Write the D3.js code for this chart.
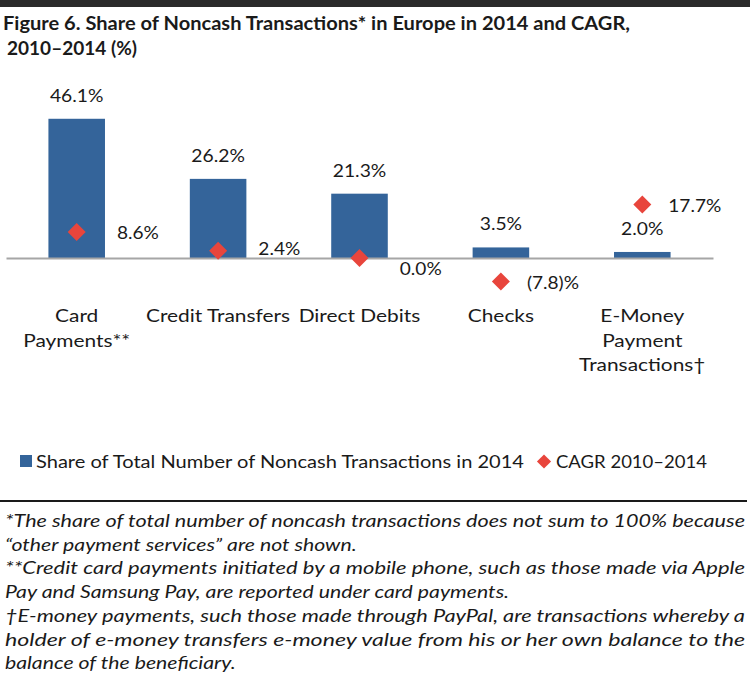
<!DOCTYPE html>
<html>
<head>
<meta charset="utf-8">
<script src="https://cdn.jsdelivr.net/npm/d3@7"></script>
<style>
  html, body { margin: 0; padding: 0; background: #ffffff; }
  svg { display: block; }
  text { font-family: Lato, "Open Sans", "DejaVu Sans", sans-serif; fill: #1a1a1a; }
</style>
</head>
<body>
<script>
// ---- data ----
const categories = ["Card\nPayments**", "Credit Transfers", "Direct Debits", "Checks", "E-Money\nPayment\nTransactions†"];
const shareValues = [46.1, 26.2, 21.3, 3.5, 2.0];
const cagrValues = [8.6, 2.4, 0.0, -7.8, 17.7];
const seriesNames = ["Share of Total Number of Noncash Transactions in 2014", "CAGR 2010–2014"];
const titleLines = ["Figure 6. Share of Noncash Transactions* in Europe in 2014 and CAGR,", "2010–2014 (%)"];
const footnoteLines = [
  "*The share of total number of noncash transactions does not sum to 100% because",
  "“other payment services” are not shown.",
  "**Credit card payments initiated by a mobile phone, such as those made via Apple",
  "Pay and Samsung Pay, are reported under card payments.",
  "†E-money payments, such those made through PayPal, are transactions whereby a",
  "holder of e-money transfers e-money value from his or her own balance to the",
  "balance of the beneficiary."
];
const footnoteJustified = [true, false, true, false, true, true, false];

// ---- layout ----
const W = 750, H = 700;
const barColor = "#34649a", cagrColor = "#e8453c", axisColor = "#a6a6a6";

// widen Lato glyphs a bit to mimic the reference face's proportions
function stretch(sel, factor) {
  sel.each(function () {
    const w = this.getComputedTextLength();
    d3.select(this).attr("textLength", w * factor).attr("lengthAdjust", "spacingAndGlyphs");
  });
}

const svg = d3.select("body").append("svg").attr("width", W).attr("height", H);
svg.append("rect").attr("width", W).attr("height", H).attr("fill", "#fff");
svg.append("rect").attr("x", 0).attr("y", 0).attr("width", W).attr("height", 7).attr("fill", "#2a2a2a");

// title
const title = svg.append("g").attr("font-weight", "bold").attr("font-size", 18.5);
title.append("text").attr("x", 3).attr("y", 29.5).text(titleLines[0])
  .attr("textLength", 627).attr("lengthAdjust", "spacingAndGlyphs");
title.append("text").attr("x", 7).attr("y", 55).text(titleLines[1])
  .attr("textLength", 130).attr("lengthAdjust", "spacingAndGlyphs");

// scales
const x = d3.scaleBand().domain(categories).range([6, 713]).paddingInner(0.6).paddingOuter(0.3);
const y = d3.scaleLinear().domain([-20, 50]).range([318.4, 107]);
const y2 = d3.scaleLinear().domain([-20, 50]).range([318.4, 107]);
const y0 = y(0);
const cx = i => x(categories[i]) + x.bandwidth() / 2;

const chart = svg.append("g");

// bars
chart.selectAll("rect.bar").data(shareValues).join("rect")
  .attr("class", "bar")
  .attr("x", (d, i) => x(categories[i]))
  .attr("y", d => y(d))
  .attr("width", x.bandwidth())
  .attr("height", d => y0 - y(d))
  .attr("fill", barColor);

// axis
const axis = chart.append("g").attr("transform", `translate(0,${y0})`)
  .call(d3.axisBottom(x).tickSize(0).tickFormat(""));
axis.select(".domain").attr("stroke", axisColor).attr("stroke-width", 2);

// bar labels
chart.selectAll("text.barlab").data(shareValues).join("text")
  .attr("class", "barlab")
  .attr("x", (d, i) => cx(i))
  .attr("y", d => y(d) - 17)
  .attr("text-anchor", "middle")
  .attr("font-size", 18)
  .text(d => d.toFixed(1) + "%")
  .call(stretch, 1.07);

// category labels
categories.forEach((c, i) => {
  const t = chart.append("text")
    .attr("text-anchor", "middle")
    .attr("font-size", 18);
  c.split("\n").forEach((line, j) => {
    t.append("tspan").attr("x", cx(i)).attr("y", 322 + j * 24.5).text(line);
  });
  t.selectAll("tspan").call(stretch, 1.16);
});

// CAGR diamonds
const diamond = d3.symbol(d3.symbolSquare, 162);
chart.selectAll("path.cagr").data(cagrValues).join("path")
  .attr("class", "cagr")
  .attr("d", diamond)
  .attr("transform", (d, i) => `translate(${cx(i)},${y2(d)}) rotate(45)`)
  .attr("fill", cagrColor);

// CAGR labels (right of marker, nudged away from bars and axis line)
const fmtCagr = v => v < 0 ? `(${Math.abs(v).toFixed(1)})%` : v.toFixed(1) + "%";
cagrValues.forEach((v, i) => {
  const my = y2(v);
  let lx = cx(i) + 26;
  let by = my + 7;
  const barRight = x(categories[i]) + x.bandwidth();
  const barTop = y(shareValues[i]);
  // avoid overlapping the bar
  if (by > barTop && by - 13 < y0 && lx < barRight + 12) lx = barRight + 12;
  // keep the label clear of the axis line
  if (Math.abs(my - y0) < 1) by = y0 + 17;
  else if (my < y0) by = Math.min(by, y0 - 3);
  chart.append("text").attr("x", lx).attr("y", by).attr("font-size", 18).text(fmtCagr(v))
    .call(stretch, 1.06);
});

// legend
const leg = svg.append("g");
leg.append("rect").attr("x", 20).attr("y", 455).attr("width", 12).attr("height", 12).attr("fill", barColor);
leg.append("text").attr("x", 36).attr("y", 468).attr("font-size", 18).text(seriesNames[0])
  .attr("textLength", 488).attr("lengthAdjust", "spacingAndGlyphs");
leg.append("path").attr("d", d3.symbol(d3.symbolSquare, 100)).attr("transform", "translate(544,461.5) rotate(45)").attr("fill", cagrColor);
leg.append("text").attr("x", 556).attr("y", 468).attr("font-size", 18).text(seriesNames[1])
  .attr("textLength", 151).attr("lengthAdjust", "spacingAndGlyphs");

// rule
svg.append("line").attr("x1", 0).attr("x2", 747).attr("y1", 501).attr("y2", 501)
  .attr("stroke", "#1a1a1a").attr("stroke-width", 2);

// footnotes
const fn = svg.append("g").attr("font-style", "italic").attr("font-size", 18);
footnoteLines.forEach((line, i) => {
  const t = fn.append("text").attr("x", 5).attr("y", 527 + i * 23.7).text(line);
  const natural = t.node().getComputedTextLength();
  const target = footnoteJustified[i] ? 740 : natural * 1.18;
  t.attr("textLength", target).attr("lengthAdjust", "spacingAndGlyphs");
});
</script>
</body>
</html>
